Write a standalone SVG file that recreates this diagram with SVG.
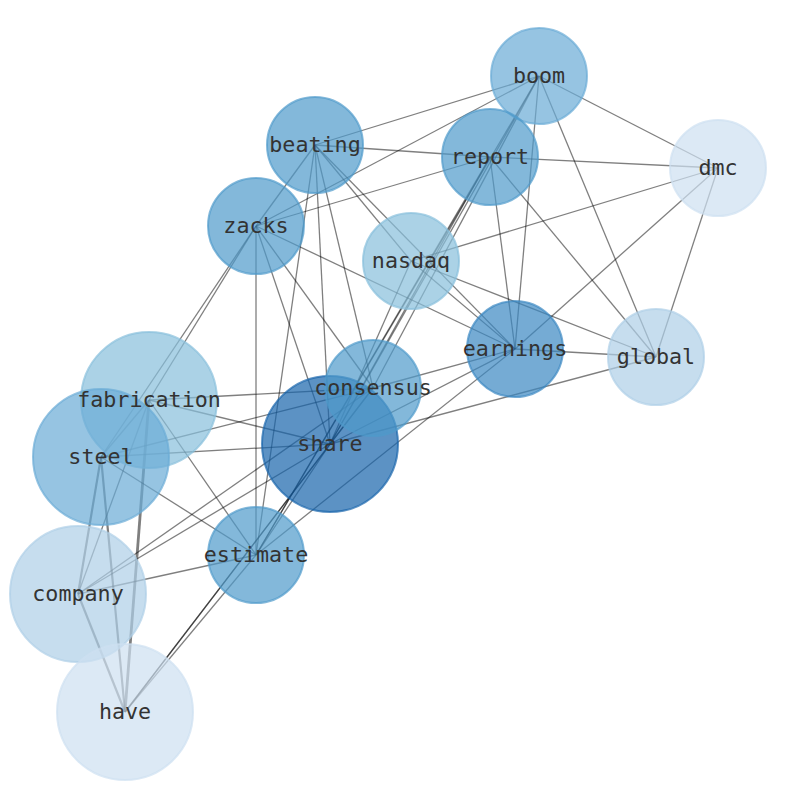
<svg xmlns="http://www.w3.org/2000/svg" width="794" height="790" viewBox="0 0 794 790">
<style>
.e{stroke:#000;stroke-opacity:0.5;stroke-width:1.3;fill:none}
.w{stroke-width:2.2}
.ww{stroke-width:2.8}
.n{fill-opacity:0.7;stroke-opacity:0.7;stroke-width:2}
.t{font-family:"DejaVu Sans Mono","Liberation Mono",monospace;font-size:21.7px;fill:#333;text-anchor:middle}
</style>
<rect width="794" height="790" fill="#fff"/>
<g id="edges">
<line class="e" x1="539" y1="76" x2="315" y2="145"/>
<line class="e" x1="539" y1="76" x2="256" y2="226"/>
<line class="e" x1="539" y1="76" x2="718" y2="168"/>
<line class="e" x1="539" y1="76" x2="656" y2="357"/>
<line class="e" x1="539" y1="76" x2="515" y2="349"/>
<line class="e" x1="539" y1="76" x2="330" y2="444"/>
<line class="e" x1="539" y1="76" x2="256" y2="555"/>
<line class="e" x1="539" y1="76" x2="373" y2="388"/>
<line class="e" x1="315" y1="145" x2="490" y2="157"/>
<line class="e" x1="315" y1="145" x2="256" y2="226"/>
<line class="e" x1="315" y1="145" x2="411" y2="261"/>
<line class="e" x1="315" y1="145" x2="515" y2="349"/>
<line class="e" x1="315" y1="145" x2="373" y2="388"/>
<line class="e" x1="315" y1="145" x2="330" y2="444"/>
<line class="e" x1="315" y1="145" x2="256" y2="555"/>
<line class="e" x1="490" y1="157" x2="718" y2="168"/>
<line class="e" x1="490" y1="157" x2="256" y2="226"/>
<line class="e" x1="490" y1="157" x2="515" y2="349"/>
<line class="e" x1="490" y1="157" x2="656" y2="357"/>
<line class="e" x1="490" y1="157" x2="330" y2="444"/>
<line class="e" x1="490" y1="157" x2="256" y2="555"/>
<line class="e" x1="718" y1="168" x2="411" y2="261"/>
<line class="e" x1="718" y1="168" x2="515" y2="349"/>
<line class="e" x1="718" y1="168" x2="656" y2="357"/>
<line class="e" x1="256" y1="226" x2="515" y2="349"/>
<line class="e" x1="256" y1="226" x2="256" y2="555"/>
<line class="e" x1="256" y1="226" x2="330" y2="444"/>
<line class="e" x1="256" y1="226" x2="373" y2="388"/>
<line class="e" x1="256" y1="226" x2="149" y2="400"/>
<line class="e" x1="256" y1="226" x2="101" y2="457"/>
<line class="e" x1="411" y1="261" x2="656" y2="357"/>
<line class="e" x1="411" y1="261" x2="515" y2="349"/>
<line class="e" x1="411" y1="261" x2="330" y2="444"/>
<line class="e" x1="515" y1="349" x2="656" y2="357"/>
<line class="e" x1="515" y1="349" x2="373" y2="388"/>
<line class="e" x1="515" y1="349" x2="330" y2="444"/>
<line class="e" x1="515" y1="349" x2="256" y2="555"/>
<line class="e" x1="656" y1="357" x2="330" y2="444"/>
<line class="e" x1="373" y1="388" x2="149" y2="400"/>
<line class="e" x1="373" y1="388" x2="101" y2="457"/>
<line class="e" x1="373" y1="388" x2="78" y2="594"/>
<line class="e" x1="373" y1="388" x2="125" y2="712"/>
<line class="e" x1="373" y1="388" x2="330" y2="444"/>
<line class="e" x1="330" y1="444" x2="149" y2="400"/>
<line class="e" x1="330" y1="444" x2="101" y2="457"/>
<line class="e" x1="330" y1="444" x2="78" y2="594"/>
<line class="e" x1="330" y1="444" x2="125" y2="712"/>
<line class="e" x1="330" y1="444" x2="256" y2="555"/>
<line class="e" x1="149" y1="400" x2="256" y2="555"/>
<line class="e ww" x1="149" y1="400" x2="125" y2="712"/>
<line class="e" x1="149" y1="400" x2="78" y2="594"/>
<line class="e" x1="149" y1="400" x2="101" y2="457"/>
<line class="e" x1="101" y1="457" x2="256" y2="555"/>
<line class="e w" x1="101" y1="457" x2="78" y2="594"/>
<line class="e w" x1="101" y1="457" x2="125" y2="712"/>
<line class="e" x1="78" y1="594" x2="256" y2="555"/>
<line class="e w" x1="78" y1="594" x2="125" y2="712"/>
<line class="e" x1="256" y1="555" x2="125" y2="712"/>
</g>
<g id="fabrication"><circle class="n" cx="149" cy="400" r="68" fill="#87bfdb" stroke="#87bfdb"/></g>
<g id="steel"><circle class="n" cx="101" cy="457" r="68" fill="#6aabd5" stroke="#6aabd5"/></g>
<g id="company"><circle class="n" cx="78" cy="594" r="68" fill="#aecee7" stroke="#aecee7"/></g>
<g id="have"><circle class="n" cx="125" cy="712" r="68" fill="#cde0f1" stroke="#cde0f1"/></g>
<g id="share"><circle class="n" cx="330" cy="444" r="68" fill="#1764ab" stroke="#1764ab"/></g>
<g id="consensus"><circle class="n" cx="373" cy="388" r="48" fill="#4f9aca" stroke="#4f9aca"/></g>
<g id="boom"><circle class="n" cx="539" cy="76" r="48" fill="#6aabd5" stroke="#6aabd5"/></g>
<g id="beating"><circle class="n" cx="315" cy="145" r="48" fill="#4f9aca" stroke="#4f9aca"/></g>
<g id="report"><circle class="n" cx="490" cy="157" r="48" fill="#4f9aca" stroke="#4f9aca"/></g>
<g id="dmc"><circle class="n" cx="718" cy="168" r="48" fill="#cde0f1" stroke="#cde0f1"/></g>
<g id="zacks"><circle class="n" cx="256" cy="226" r="48" fill="#4f9aca" stroke="#4f9aca"/></g>
<g id="nasdaq"><circle class="n" cx="411" cy="261" r="48" fill="#87bfdb" stroke="#87bfdb"/></g>
<g id="earnings"><circle class="n" cx="515" cy="349" r="48" fill="#3a88c2" stroke="#3a88c2"/></g>
<g id="global"><circle class="n" cx="656" cy="357" r="48" fill="#aecee7" stroke="#aecee7"/></g>
<g id="estimate"><circle class="n" cx="256" cy="555" r="48" fill="#4f9aca" stroke="#4f9aca"/></g>
<g id="labels">
<text class="t" x="539" y="83">boom</text>
<text class="t" x="315" y="152">beating</text>
<text class="t" x="490" y="164">report</text>
<text class="t" x="718" y="175">dmc</text>
<text class="t" x="256" y="233">zacks</text>
<text class="t" x="411" y="268">nasdaq</text>
<text class="t" x="515" y="356">earnings</text>
<text class="t" x="656" y="364">global</text>
<text class="t" x="373" y="395">consensus</text>
<text class="t" x="149" y="407">fabrication</text>
<text class="t" x="330" y="451">share</text>
<text class="t" x="101" y="464">steel</text>
<text class="t" x="256" y="562">estimate</text>
<text class="t" x="78" y="601">company</text>
<text class="t" x="125" y="719">have</text>
</g>
</svg>
